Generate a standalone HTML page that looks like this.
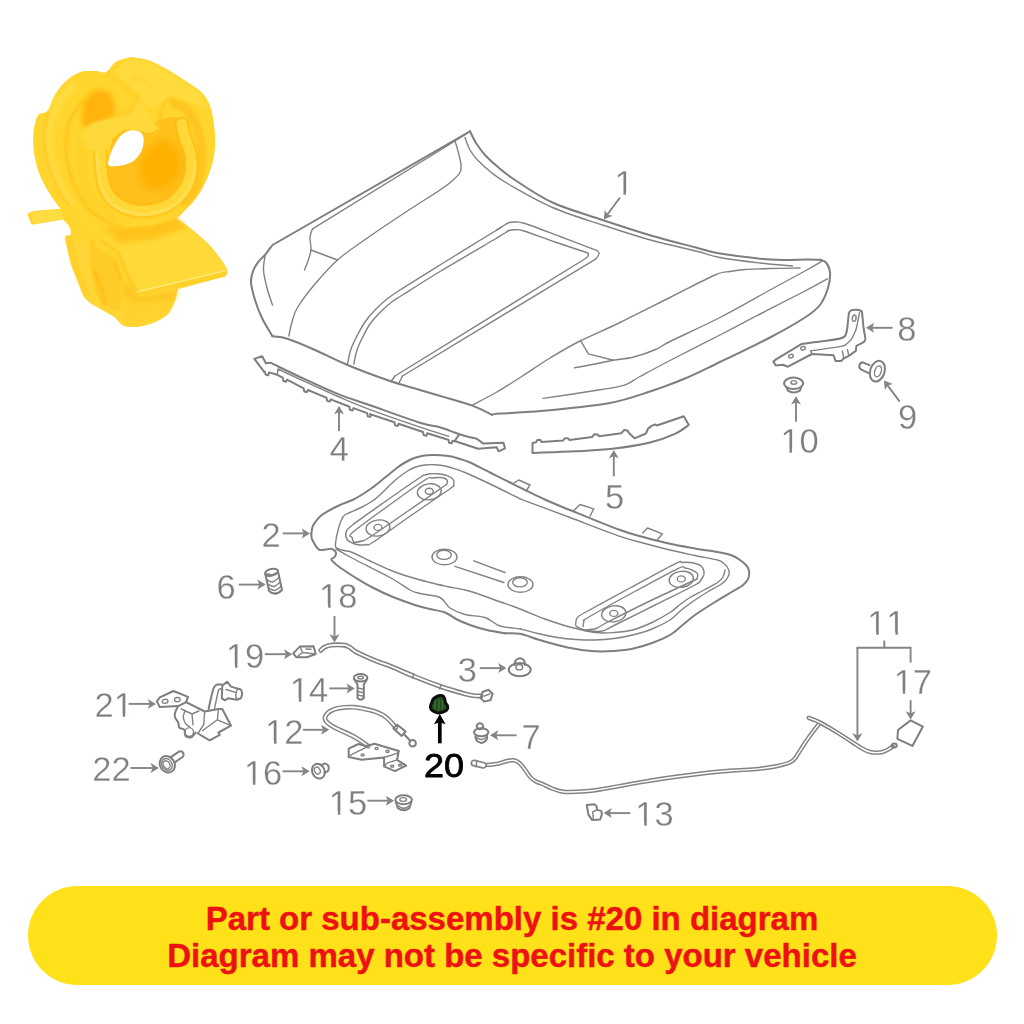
<!DOCTYPE html>
<html><head><meta charset="utf-8"><title>Part diagram</title>
<style>
html,body{margin:0;padding:0;background:#fff;}
body{width:1024px;height:1024px;overflow:hidden;position:relative;font-family:"Liberation Sans",sans-serif;}
svg{position:absolute;left:0;top:0;display:block;}
.g{fill:none;stroke:#7e7e7e;stroke-width:2;stroke-linecap:round;stroke-linejoin:round;}
.t{fill:none;stroke:#828282;stroke-width:1.4;stroke-linecap:round;stroke-linejoin:round;}
.ar{fill:none;stroke:#858585;stroke-width:1.9;stroke-linecap:butt;}
.ah{fill:#858585;stroke:none;}
.n{font-family:"Liberation Sans",sans-serif;font-size:34.5px;fill:#7f7f7f;stroke:#fff;stroke-width:0.3;font-kerning:none;}
.n20{font-family:"Liberation Sans",sans-serif;font-size:33.6px;fill:#000;stroke:#000;stroke-width:0.8;font-kerning:none;}
.banner{position:absolute;left:28px;top:886px;width:969px;height:99px;border-radius:50px;background:#ffe11a;}
.bt{position:absolute;left:0;width:1024px;text-align:center;color:#ee1111;-webkit-text-stroke:0.45px #ee1111;font-weight:bold;font-family:"Liberation Sans",sans-serif;white-space:nowrap;}
</style></head><body>
<svg width="1024" height="1024" viewBox="0 0 1024 1024">
<defs><filter id="b1" x="-20%" y="-20%" width="140%" height="140%"><feGaussianBlur stdDeviation="1.2"/></filter><filter id="b2" x="-30%" y="-30%" width="160%" height="160%"><feGaussianBlur stdDeviation="2.6"/></filter><filter id="b4" x="-40%" y="-40%" width="180%" height="180%"><feGaussianBlur stdDeviation="4.5"/></filter><filter id="b0" x="-10%" y="-10%" width="120%" height="120%"><feGaussianBlur stdDeviation="0.6"/></filter><linearGradient id="gleg" x1="0" y1="0" x2="1" y2="0"><stop offset="0" stop-color="#ffd533"/><stop offset="0.45" stop-color="#ffc721"/><stop offset="1" stop-color="#ffd22c"/></linearGradient><linearGradient id="gflap" x1="0" y1="0" x2="0.3" y2="1"><stop offset="0" stop-color="#ffd52f"/><stop offset="1" stop-color="#ffe04a"/></linearGradient><radialGradient id="gin" cx="0.62" cy="0.45" r="0.6"><stop offset="0" stop-color="#ffb305"/><stop offset="1" stop-color="#ffc623"/></radialGradient></defs>
<g id="clip" filter="url(#b0)">
<path d="M131.7 57.2 C134.6 57.7 143.2 58.4 148.9 60.4 C154.6 62.4 160.4 65.8 166.1 69 C171.8 72.2 177.6 75.9 183.3 79.7 C189 83.5 196 87.1 200.5 91.6 C205 96.1 207.8 100.2 210.1 106.6 C212.4 113 213.7 122.7 214.4 130.2 C215.1 137.7 215.3 144.5 214.4 151.7 C213.5 158.9 211.8 166 209.1 173.2 C206.4 180.4 202.6 188.2 198.3 194.7 C194 201.1 186.9 208 183.3 211.9 C179.7 215.8 177.6 217.2 176.5 218.3 L176.5 218.3 C179.1 220.2 186.6 225.1 192 229.5 C197.4 233.9 204.2 239.5 209 244.5 C213.8 249.5 218.1 255.5 221 259.5 C223.9 263.5 225.6 266.3 226.6 268.5 C227.6 270.7 227.1 271.8 227.2 272.5 L225.6 276.3 L225.6 276.3 C217.6 278.4 186.2 285.1 177.8 289.2 C169.4 293.3 176.7 296.8 175 301 C173.3 305.2 170.9 311.1 167.6 314.6 C164.3 318.1 159.2 320.1 155 322 C150.8 323.9 146.4 325.2 142.2 326 C138 326.8 133.4 327 130 326.8 C126.6 326.6 124.5 326.3 121.9 324.7 C119.3 323.1 117.7 319.6 114.3 317.1 C110.9 314.6 106.3 312.5 101.6 309.5 C96.9 306.5 90.2 304.1 86.3 299.3 C82.4 294.6 80.5 286.9 78 281 C75.5 275.1 72.8 268.8 71.1 263.8 C69.4 258.8 69 255.4 68 251 C67 246.6 64.9 239.9 65.3 237.1 C65.7 234.3 69.8 236.1 70.5 234.4 C71.2 232.7 70.7 229.4 69.4 226.9 C68.2 224.4 64.1 220.8 63 219.6 L31.8 224.8 L31.8 224.8 C31.3 223.7 29.2 220.5 29 218.3 C28.8 216.2 25.4 213.5 30.7 211.9 C36 210.3 55.8 209.2 60.8 208.7 L60.8 208.7 C60.1 207.8 58.6 206.4 56.5 203.3 C54.4 200.2 50.8 195.4 47.9 190.4 C45 185.4 41.6 179.6 39.3 173.2 C37 166.8 34.9 158.9 34 151.7 C33.1 144.5 33.3 136.3 34 130.2 C34.7 124.1 36 118.4 38.3 115.2 C40.6 112 45.2 114.1 47.9 110.9 C50.6 107.7 51.5 100.7 54.4 95.9 C57.3 91.1 60.8 85.9 65.1 81.9 C69.4 78 75.2 74 80.2 72.2 C85.2 70.4 90.9 71 95.2 71 C99.5 71 102.3 74 105.9 72.4 C109.5 70.8 112.4 64 116.7 61.5 C121 59 129.2 57.9 131.7 57.2Z" fill="#ffd52d"/>
<path d="M65.3 237.1 L96.5 241 L135.9 291.7 L177.8 289.2 L177.8 289.2 C177.3 291.2 176.7 296.8 175 301 C173.3 305.2 170.9 311.1 167.6 314.6 C164.3 318.1 159.2 320.1 155 322 C150.8 323.9 146.4 325.2 142.2 326 C138 326.8 133.4 327 130 326.8 C126.6 326.6 124.5 326.3 121.9 324.7 C119.3 323.1 117.7 319.6 114.3 317.1 C110.9 314.6 106.3 312.5 101.6 309.5 C96.9 306.5 90.2 304.1 86.3 299.3 C82.4 294.6 80.5 286.9 78 281 C75.5 275.1 72.8 268.8 71.1 263.8 C69.4 258.8 69 255.4 68 251 C67 246.6 65.8 239.4 65.3 237.1Z" fill="#ffd636"/>
<path d="M66 238 L72 239 L78 262 L90 296 L84 297 L72 266 Z" fill="#ffcf2b" filter="url(#b1)"/>
<path d="M94 245.5 L115.6 260.5 L121 275.5 L121 310 L110.5 310 L94 276 Z" fill="#ffcb27" filter="url(#b1)"/>
<path d="M92 240 L93 270 L99 296 L106 306" fill="none" stroke="#ffc21c" stroke-width="2.6" filter="url(#b1)"/>
<path d="M95.5 271 L106 305" fill="none" stroke="#ffb60e" stroke-width="2" filter="url(#b1)"/>
<path d="M114.5 261 L121 280" fill="none" stroke="#ffbb14" stroke-width="1.8" filter="url(#b1)"/>
<path d="M123 276 L136 292 L178 289 L168 313 L142 325 L123 324 Z" fill="#ffd22e" filter="url(#b0)"/>
<path d="M124 280 L137 296 L177 292 L175 298 L138 303 L124 296 Z" fill="#ffc522" filter="url(#b2)"/>
<path d="M175.2 218.1 Q205 238 226.6 268.5 L227.2 272.5 L225.6 276.3 L177.8 289.2 L142.2 297.3 L135.9 291.7 L124.4 271.4 L116.8 253.6 L96.5 241 L120 228 Z" fill="#ffd938"/>
<path d="M135.9 291.7 L226.6 269.5 L227.2 272.5 L225.6 276.3 L142.2 297.3 Z" fill="#ffd129"/>
<path d="M136.5 292 L226 270.5" fill="none" stroke="#ffe978" stroke-width="1.4" filter="url(#b0)"/>
<path d="M100 240 L118 252 L126 272 L137 292" fill="none" stroke="#ffc31c" stroke-width="2.2" filter="url(#b1)"/>
<path d="M105 228 L176 217 L186 228 L150 240 L118 243 Z" fill="#ffc41f" filter="url(#b2)"/>
<path d="M131.7 57.2 C134.6 57.7 143.2 58.4 148.9 60.4 C154.6 62.4 160.4 65.8 166.1 69 C171.8 72.2 177.6 75.9 183.3 79.7 C189 83.5 196 87.1 200.5 91.6 C205 96.1 207.8 100.2 210.1 106.6 C212.4 113 213.7 122.7 214.4 130.2 C215.1 137.7 215.3 144.5 214.4 151.7 C213.5 158.9 211.8 166 209.1 173.2 C206.4 180.4 202.6 188.2 198.3 194.7 C194 201.1 186.9 208 183.3 211.9 C179.7 215.8 177.6 217.2 176.5 218.3 L150 226 L118 228 L90 222 L60.8 208.7 C60.1 207.8 58.6 206.4 56.5 203.3 C54.4 200.2 50.8 195.4 47.9 190.4 C45 185.4 41.6 179.6 39.3 173.2 C37 166.8 34.9 158.9 34 151.7 C33.1 144.5 33.3 136.3 34 130.2 C34.7 124.1 36 118.4 38.3 115.2 C40.6 112 45.2 114.1 47.9 110.9 C50.6 107.7 51.5 100.7 54.4 95.9 C57.3 91.1 60.8 85.9 65.1 81.9 C69.4 78 75.2 74 80.2 72.2 C85.2 70.4 90.9 71 95.2 71 C99.5 71 102.3 74 105.9 72.4 C109.5 70.8 112.4 64 116.7 61.5 C121 59 129.2 57.9 131.7 57.2Z" fill="#ffd52d"/>
<path d="M75 84 C72.5 86.7 64.2 93.2 60 100 C55.8 106.8 51.7 115.8 50 125 C48.3 134.2 48.7 145.5 50 155 C51.3 164.5 54.3 173.8 58 182 C61.7 190.2 69.7 200.3 72 204" fill="none" stroke="#ffdd44" stroke-width="7" filter="url(#b2)"/>
<path d="M49 111 C48.2 115 44.3 126.8 44 135 C43.7 143.2 44.8 151.3 47 160 C49.2 168.7 53.2 179.2 57 187 C60.8 194.8 67.8 203.7 70 207" fill="none" stroke="#ffc726" stroke-width="2.2" filter="url(#b1)"/>
<path d="M84 100 C81.7 103.3 73 111.7 70 120 C67 128.3 65.7 140 66 150 C66.3 160 68.3 170.3 72 180 C75.7 189.7 82 201 88 208 C94 215 102.3 218.7 108 222 C113.7 225.3 119.7 227 122 228" fill="none" stroke="#ffc51f" stroke-width="3" filter="url(#b1)"/>
<path d="M100 90 C103 90.3 107.5 90.7 110 94 C112.5 97.3 115.3 104.8 115 110 C114.7 115.2 111.8 121.5 108 125 C104.2 128.5 96.3 131.5 92 131 C87.7 130.5 83.3 126.5 82 122 C80.7 117.5 82.3 109 84 104 C85.7 99 89.3 94.3 92 92 C94.7 89.7 97 89.7 100 90Z" fill="#ffb40b" filter="url(#b2)"/>
<path d="M120 66 C122.3 63.3 127 60.5 132 60 C137 59.5 142 59.7 150 63 C158 66.3 171.7 74.8 180 80 C188.3 85.2 195.3 89 200 94 C204.7 99 208.7 108.3 208 110 C207.3 111.7 201.3 106 196 104 C190.7 102 182 98 176 98 C170 98 164.3 102.3 160 104 C155.7 105.7 154.2 110.3 150 108 C145.8 105.7 140.3 95.3 135 90 C129.7 84.7 120.5 80 118 76 C115.5 72 117.7 68.7 120 66Z" fill="#ffdb3e" filter="url(#b1)"/>
<path d="M174 104 C176.3 105.2 184 106.5 188 111 C192 115.5 195.8 123.2 198 131 C200.2 138.8 201.7 149.2 201.5 158 C201.3 166.8 199.6 176.7 197 184 C194.4 191.3 187.8 199 186 202" fill="none" stroke="#ffc522" stroke-width="9" stroke-linecap="round" filter="url(#b1)"/>
<path d="M108 166 C110 158.7 109.3 147.8 112 142 C114.7 136.2 119.3 133.3 124 131 C128.7 128.7 134 129.8 140 128 C146 126.2 153.7 121.7 160 120 C166.3 118.3 173.3 115.5 178 118 C182.7 120.5 185.5 128.7 188 135 C190.5 141.3 192.7 149.2 193 156 C193.3 162.8 192.5 169.5 190 176 C187.5 182.5 183.3 190 178 195 C172.7 200 165.8 203.8 158 206 C150.2 208.2 138.8 208.8 131 208 C123.2 207.2 116.2 204.7 111 201 C105.8 197.3 100.5 191.8 100 186 C99.5 180.2 106 173.3 108 166Z" fill="#ffc01c" filter="url(#b0)"/>
<path d="M140 160 C142.5 152.3 153.7 141.7 160 140 C166.3 138.3 174.7 144.7 178 150 C181.3 155.3 182 165.7 180 172 C178 178.3 171.8 185.7 166 188 C160.2 190.3 149.3 190.7 145 186 C140.7 181.3 137.5 167.7 140 160Z" fill="#ffb006" filter="url(#b4)"/>
<path d="M100.5 152 C100.7 155 100.8 164.2 101.5 170 C102.2 175.8 102.9 182.1 104.4 186.7 C105.9 191.3 108.1 194.5 110.5 197.5 C112.9 200.5 115.5 202.5 118.9 204.5 C122.3 206.5 126.9 208.4 131 209.5 C135.1 210.6 139.3 211 143.5 211 C147.7 211 151.9 210.3 156 209.3 C160.1 208.3 164.4 207.1 168.1 205 C171.8 202.9 175 200.1 178 197 C181 193.9 183.8 190.4 185.9 186.7 C188 183 189.4 179.1 190.3 175 C191.2 170.9 191.4 166.3 191.3 162.1 C191.2 157.9 190.4 153.7 189.5 150 C188.6 146.3 187 143.4 185.9 140.2 C184.8 137 183.7 133.7 183 131 C182.3 128.3 182 125 181.8 123.8" fill="none" stroke="#ffb910" stroke-width="13.5" stroke-linecap="round" filter="url(#b1)"/>
<path d="M100.5 152 C100.7 155 100.8 164.2 101.5 170 C102.2 175.8 102.9 182.1 104.4 186.7 C105.9 191.3 108.1 194.5 110.5 197.5 C112.9 200.5 115.5 202.5 118.9 204.5 C122.3 206.5 126.9 208.4 131 209.5 C135.1 210.6 139.3 211 143.5 211 C147.7 211 151.9 210.3 156 209.3 C160.1 208.3 164.4 207.1 168.1 205 C171.8 202.9 175 200.1 178 197 C181 193.9 183.8 190.4 185.9 186.7 C188 183 189.4 179.1 190.3 175 C191.2 170.9 191.4 166.3 191.3 162.1 C191.2 157.9 190.4 153.7 189.5 150 C188.6 146.3 187 143.4 185.9 140.2 C184.8 137 183.7 133.7 183 131 C182.3 128.3 182 125 181.8 123.8" fill="none" stroke="#ffd738" stroke-width="10.4" stroke-linecap="round" filter="url(#b0)"/>
<path d="M97 154 C97.2 156.8 97.3 165.2 98 171 C98.7 176.8 99.3 183.6 101 188.5 C102.7 193.4 105.2 197.2 108 200.5 C110.8 203.8 113.7 205.9 117.5 208 C121.3 210.1 126.7 211.9 131 213 C135.3 214.1 139.2 214.5 143.5 214.5 C147.8 214.5 152.6 213.8 157 212.8 C161.4 211.8 166 210.4 170 208.3 C174 206.2 177.8 203.3 181 200 C184.2 196.7 187.1 192.6 189.3 188.5 C191.5 184.4 193.1 179.9 194 175.5 C194.9 171.1 194.8 164.2 195 162" fill="none" stroke="#ffe560" stroke-width="2" stroke-linecap="round" filter="url(#b1)"/>
<path d="M84 140 C83.5 143.3 81 152.7 81 160 C81 167.3 81.7 176.5 84 184 C86.3 191.5 90.3 199.2 95 205 C99.7 210.8 109.2 216.7 112 219" fill="none" stroke="#ffd12c" stroke-width="9" stroke-linecap="round" filter="url(#b1)"/>
<path d="M82 134 C82.8 130.3 86 126.5 90 124 C94 121.5 99.7 120.8 106 119 C112.3 117.2 123.3 115.7 128 113 C132.7 110.3 132.2 105.2 134 103 C135.8 100.8 136.3 97.8 139 100 C141.7 102.2 146.8 111.1 150 116 C153.2 120.9 158.4 126.6 158.4 129.6 C158.4 132.6 153.6 133.7 150 134 C146.4 134.3 141.3 132 137 131.5 C132.7 131 128 129.6 124 131 C120 132.4 116 136.8 113 140 C110 143.2 109 148.2 106 150 C103 151.8 98.5 151.7 95 151 C91.5 150.3 87.2 148.8 85 146 C82.8 143.2 81.2 137.7 82 134Z" fill="#ffd93a" filter="url(#b1)"/>
<path d="M112 141 L124 130.5 L137 131.5 L150 134.3 L158.4 130" fill="none" stroke="#ffbf18" stroke-width="1.8" filter="url(#b0)"/>
<path d="M104 118 L130 112 L138 98" fill="none" stroke="#ffc41f" stroke-width="1.6" filter="url(#b1)"/>
<path d="M158 128 C158.5 125.3 159.7 116.7 161 112 C162.3 107.3 163.5 102.3 166 100 C168.5 97.7 174.3 98.3 176 98" fill="none" stroke="#ffc624" stroke-width="2.2" filter="url(#b1)"/>
<path d="M107 73 C109.2 74.8 115.8 80.5 120 84 C124.2 87.5 129 91.7 132 94 C135 96.3 137 97.3 138 98" fill="none" stroke="#ffcb2a" stroke-width="1.6" filter="url(#b1)"/>
<path d="M132 78 C134.3 78.7 142.7 80 146 82 C149.3 84 151 88.7 152 90" fill="none" stroke="#ffcf2e" stroke-width="1.4" filter="url(#b1)"/>
<path d="M108.6 165.2 C107.3 163.2 109.5 157.4 110.5 154 C111.5 150.6 113.3 147.3 114.8 144.5 C116.3 141.7 117.7 139.1 119.5 137 C121.3 134.9 123.6 133.1 125.7 132 C127.8 130.9 129.9 130.4 132 130.2 C134.1 130 136.3 130.4 138 131 C139.7 131.6 141.1 132.7 142 134 C142.9 135.3 143.4 137 143.6 139 C143.8 141 143.5 143.7 143 146 C142.5 148.3 142 150.6 140.5 153 C139 155.4 136.2 158.7 134 160.5 C131.8 162.3 129.7 163.1 127 164 C124.3 164.9 121.1 165.8 118 166 C114.9 166.2 109.8 167.2 108.6 165.2Z" fill="#fff"/>
<path d="M31 213 L60 209 L64 219 L33 224 Z" fill="#ffdd42" filter="url(#b0)"/>
</g>
<filter id="soft" x="0" y="0" width="1024" height="1024" filterUnits="userSpaceOnUse"><feGaussianBlur stdDeviation="0.4"/></filter><g id="diagram" filter="url(#soft)">
<g id="hood">
<path class="g" d="M470 131.3 C471 133.2 473.5 139.1 476 143 C478.5 146.9 481.3 151 485 155 C488.7 159 493 162.8 498 167 C503 171.2 505.9 174.1 515 180 C524.1 185.9 537.9 195.8 552.5 202.5 C567.1 209.2 585.8 214.4 602.5 220 C619.2 225.6 636.9 231.4 652.5 236 C668.1 240.6 684.8 244.6 696 247.5 C707.2 250.4 707.7 251.5 720 253.5 C732.3 255.5 755.3 258.5 770 259.5 C784.7 260.5 799.7 259.4 808 259.5 C816.3 259.6 818 259.8 820 259.8"/>
<path class="g" d="M820 259.8 C821 260.2 824.3 260.4 826 262.5 C827.7 264.6 829.7 268.2 830 272.5 C830.3 276.8 829.7 282.6 828 288 C826.3 293.4 823.8 300.1 820 305 C816.2 309.9 813.3 312.1 805 317.5 C796.7 322.9 784.2 330.1 770 337.5 C755.8 344.9 734.2 355.2 720 362 C705.8 368.8 696.7 373.6 685 378.5 C673.3 383.4 662.5 387.4 650 391.5 C637.5 395.6 626.7 399.9 610 403 C593.3 406.1 568.3 408.4 550 410.2 C531.7 412 509.7 412.8 500 413.6 C490.3 414.4 493.3 414.6 492 414.8"/>
<path class="g" d="M492 414.8 C490.7 414.1 487.4 412.4 484 410.8 C480.6 409.2 477.9 407.6 471.6 405.4 C465.3 403.2 454.5 400.1 446 397.6 C437.5 395.1 430.1 393 420.8 390.2 C411.5 387.4 402.2 385.2 390 381 C377.8 376.8 360 370.2 347.5 365 C335 359.8 325 354.4 315 350 C305 345.6 294.6 341.1 287.5 338.8 C280.4 336.5 275 336.7 272.5 336.3"/>
<path class="g" d="M272.5 336.3 C270.8 333.2 264.9 324.1 262 318 C259.1 311.9 256.8 306 255 300 C253.2 294 251.2 287 251 282 C250.8 277 252.2 273.5 253.5 270 C254.8 266.5 257.1 263.5 259 261 C260.9 258.5 262.8 257.7 265 255 C267.2 252.3 271.2 246.7 272.5 245 L470 131.3"/>
<path class="t" d="M465 137.5 C465.8 139.6 467.9 146.2 470 150 C472.1 153.8 473.8 156.2 477.5 160 C481.2 163.8 486.6 168.8 492 173 C497.4 177.2 499.9 179.2 510 185 C520.1 190.8 537.1 200.8 552.5 207.5 C567.9 214.2 585.8 219.5 602.5 225 C619.2 230.5 636.9 236.2 652.5 240.5 C668.1 244.8 684.8 248.2 696 251 C707.2 253.8 709.3 255.5 720 257.5 C730.7 259.5 747.9 261.6 760 263 C772.1 264.4 787.1 265.5 792.5 266"/>
<path class="t" d="M455 141 L312.5 228.8"/>
<path class="t" d="M312.5 228.8 C312.1 230.2 310.2 234 310 237.5 C309.8 241 311.3 246.1 311 250 C310.7 253.9 309.1 257.7 308 261 C306.9 264.3 305.1 268.5 304.5 270"/>
<path class="t" d="M311 250 L337.5 260"/>
<path class="t" d="M470 131.3 L455 141"/>
<path class="t" d="M455 141 C455.6 143 457.5 149 458.5 153 C459.5 157 460.8 161.8 461 165 C461.2 168.2 461.5 169.8 460 172.5 C458.5 175.2 455.3 178.1 452 181 C448.7 183.9 446.2 185.8 440 190 C433.8 194.2 423.3 200.6 415 206 C406.7 211.4 398.7 216.7 390 222.5 C381.3 228.3 371.8 234.8 363 241 C354.2 247.2 345.5 252.8 337.5 260 C329.5 267.2 321.7 276.1 315 284 C308.3 291.9 301.3 301.2 297.5 307.5 C293.7 313.8 293.4 317.2 292 322 C290.6 326.8 289.3 333.7 288.8 336"/>
<path class="t" d="M265 256 C264.8 258.3 263.2 264.7 263.5 270 C263.8 275.3 265.5 282.2 267 288 C268.5 293.8 271.6 302.2 272.5 305"/>
<path class="t" d="M347.5 364 C348.1 361.5 349.3 353.8 351 349 C352.7 344.2 355.2 339.5 357.5 335 C359.8 330.5 362.1 326.2 365 322 C367.9 317.8 371.3 313.8 375 310 C378.7 306.2 382.8 302.3 387 299 C391.2 295.7 391.2 295.7 400 290 C408.8 284.3 424 274.9 440 265 C456 255.1 486.7 236.2 496 230.5"/>
<path class="t" d="M353.8 364 C354.3 361.7 355.6 354.4 357 350 C358.4 345.6 360.3 341.8 362.5 337.5 C364.7 333.2 367.1 328.2 370 324 C372.9 319.8 376.5 316.1 380 312.5 C383.5 308.9 387.2 305.4 391 302.5 C394.8 299.6 394.3 300.2 402.5 295 C410.7 289.8 424.4 280.9 440 271.5 C455.6 262.1 486.7 244 496 238.5"/>
<path class="t" d="M496 230.5 L502.5 226.5"/>
<path class="t" d="M496 230.5 C497.2 229.8 501 227.2 503 226 C505 224.8 506.2 223.7 508 223 C509.8 222.3 511.2 221.9 514 222 C516.8 222.1 517.3 221.1 525 223.5 C532.7 225.9 548.8 232.3 560 236.5 C571.2 240.7 586.2 246.4 592.5 248.8 C598.8 251.2 596.4 250.1 597.5 251 C598.6 251.9 599.2 252.7 599 254 C598.8 255.3 596.5 258 596 258.8 L402.5 376"/>
<path class="t" d="M496 238.5 C497.5 237.6 502.8 234.3 505 233 C507.2 231.7 507.3 231.1 509 230.5 C510.7 229.9 512.5 229.6 515 229.7 C517.5 229.8 517.3 228.9 524 231 C530.7 233.1 544.8 238.5 555 242 C565.2 245.5 579.5 250.1 585 252 C590.5 253.9 587.5 252.9 588 253.6 C588.5 254.3 588.4 255.2 588 256 C587.6 256.8 585.9 258.1 585.5 258.5 L395 376"/>
<path class="t" d="M391 381.5 L395 376 M398.5 384 L402.5 376"/>
<path class="t" d="M580.6 340.6 L588.4 353.9 L613.4 360.2 C616.8 359.7 626.8 358.8 633.8 357 C640.8 355.2 649.6 352.1 655.6 349.5 C661.6 346.9 659.3 346.8 670 341.5 C680.7 336.2 703.3 326.1 720 317.5 C736.7 308.9 755.8 297.8 770 290 C784.2 282.2 796.2 275.8 805 271 C813.8 266.2 819.6 262.7 822.5 261"/>
<path class="t" d="M827.5 278.8 C823.8 280.8 814.6 286 805 291 C795.4 296 784.2 301.5 770 308.8 C755.8 316.1 736.7 326.4 720 335 C703.3 343.6 683.3 353.6 670 360.5 C656.7 367.4 647.6 372.4 640 376.5 C632.4 380.6 631.1 383 624.4 385.2 C617.7 387.4 613.5 387.6 600 389.8 C586.5 392 552.6 397 543.1 398.4"/>
<path class="t" d="M800 268 C795 268.1 779.2 268.2 770 268.5 C760.8 268.8 751.7 269 745 269.5 C738.3 270 735 270.6 730 271.5 C725 272.4 725 270.7 715 275 C705 279.3 685.8 289.6 670 297.5 C654.2 305.4 635 315.2 620 322.5 C605 329.8 591.7 335.1 580 341 C568.3 346.9 559.6 352.2 550 358 C540.4 363.8 531.5 370.2 522.5 376 C513.5 381.8 504.5 387.6 496 392.5 C487.5 397.4 475.7 403.2 471.6 405.4"/>
<path class="t" d="M574.5 367.8 C577.9 367.2 588.5 365.3 595 364 C601.5 362.7 610.3 360.8 613.4 360.2"/>
</g>
<g id="p4">
<path class="g" d="M264 371.6 L254.4 358.9 L262.1 356.3 L265.9 363.3 L270.3 362.7 C275.4 365.1 289.4 372 300.8 377.3 C312.2 382.6 327.4 389.8 338.9 394.4 C350.4 399 356.4 400.4 370 405.2 C383.6 410 409.1 419.3 420.8 423 C432.5 426.7 433.6 425.4 440 427.3 C446.4 429.2 453.3 432.2 459.5 434.2 C465.7 436.1 474.2 438.2 477.1 439 L483 443.4 L503.5 442.7 L505 448.3 L498.6 451.3 L496.6 447.3 L478.1 448.8 L454.6 441 L459.5 434.2"/>
<path class="g" d="M264 371.6 L264.9 371.7 L265.6 374.6 L268.1 375.3 L269.1 372.4 L269 372.4 L277.3 374.8 L282.7 377.6 L283.4 381 L285.9 381.7 L286.9 379.7 L303.3 388.1 L303.6 388.2 L304.3 391.5 L306.8 392.2 L307.8 390 L326.2 397.6 L326.5 397.7 L327.2 400.9 L329.7 401.6 L330.7 399.4 L349 406.5 L349.3 406.6 L350 409.8 L352.5 410.5 L353.5 408.1 L367.1 413.1 L367.8 416.2 L370.3 416.9 L371.3 414.5 L370 414.1 L392.9 421.7 L394.4 422.2 L395.1 425.4 L397.6 426.1 L398.6 423.7 L420.8 431.3 L423 432 L423.7 435.1 L426.2 435.8 L427.2 433.3 L447.4 439.5 L448.4 439.7 L449.1 442.7 L451.6 443.4 L452.6 440.7 L454.6 441.2"/>
<path class="t" d="M277.9 369 C281.6 370.7 290 374.7 300 379.3 C310 383.9 326.3 391.4 338 396.5 C349.7 401.6 356.3 404.6 370 409.7 C383.7 414.8 406.9 422.8 420 427.2 C433.1 431.6 443.9 434.8 448.7 436.3 M277.9 369 L277.3 374.8"/>
</g>
<g id="p5">
<path class="g" d="M532.5 453 L532.5 443 L536 442.3 L537.5 439.8 L540.5 440 L541.5 442 L563 440.6 L565 438.2 L568 438.3 L569.5 440 L592 437 L594.5 434.2 L597.5 434.4 L599 436.2 L621.5 433.2 L624 430 L627.5 430.5 L629 433 L634.5 438.3 L646 433.5 L648 428.6 L652 425.6 L655.5 424.5 L657 425.5 L683.8 416.3 L688.8 425 C686.5 426.5 681.5 430.9 675 433.8 C668.5 436.7 660.4 440 650 442.5 C639.6 445 625 447.3 612.5 448.8 C600 450.3 588.3 450.6 575 451.3 C561.7 452 539.6 452.7 532.5 453"/>
</g>
<g id="p2">
<path class="g" d="M311.3 533.8 C311.5 532.7 311.9 528.9 312.5 527 C313.1 525.1 313.8 524.2 315 522.5 C316.2 520.8 317.9 518.4 320 516.5 C322.1 514.6 324.2 513.2 327.5 511.3 C330.8 509.4 335.8 506.9 340 505 C344.2 503.1 348.7 501.8 352.5 500 C356.3 498.2 359.7 496.1 363 494 C366.3 491.9 368.8 490.2 372.5 487.5 C376.2 484.8 380.8 480.8 385 477.5 C389.2 474.2 394 470.1 397.5 467.5 C401 464.9 403.1 463.6 406 462 C408.9 460.4 412.2 458.8 415 457.8 C417.8 456.8 420.1 456.3 423 455.8 C425.9 455.3 429.5 455.1 432.5 455 C435.5 454.9 438.1 455.1 441 455.3 C443.9 455.5 446.8 455.7 450 456.3 C453.2 456.9 456.7 458 460 459 C463.3 460 465 460.2 470 462.5 C475 464.8 483.3 469.2 490 472.5 C496.7 475.8 500.7 477.9 510 482.5 C519.3 487.1 536 495.4 546 500 C556 504.6 557.7 505 570 510 C582.3 515 607.5 525.4 620 530 C632.5 534.6 636.7 535.2 645 537.5 C653.3 539.8 661.7 542 670 543.8 C678.3 545.6 686.7 547 695 548.5 C703.3 550 713.8 551.3 720 552.5 C726.2 553.7 728.7 554.2 732 555.5 C735.3 556.8 737.7 558.4 740 560 C742.3 561.6 744.5 563.3 746 565 C747.5 566.7 748.3 568.2 748.8 570 C749.3 571.8 749.2 573.8 749 575.5 C748.8 577.2 748.6 578.3 747.5 580 C746.4 581.7 744.6 583.8 742.5 585.5 C740.4 587.2 739.6 587.2 735 590 C730.4 592.8 721.7 597.8 715 602 C708.3 606.2 700.5 611.1 695 615 C689.5 618.9 686.2 622.2 682 625.5 C677.8 628.8 675 632.1 670 635 C665 637.9 658.2 640.7 652 643 C645.8 645.3 638.8 647.5 632.5 648.8 C626.2 650.1 620.2 650.6 614 651 C607.8 651.4 601.3 651.6 595 651.3 C588.7 651 582.2 650 576 649 C569.8 648 563.8 646.6 557.5 645 C551.2 643.4 544.2 641.4 538 639.5 C531.8 637.6 525.5 634.8 520 633.8 C514.5 632.8 507.5 633.4 505 633.3"/>
<path class="g" d="M311.3 533.8 C311.4 534.6 311.4 537 311.8 538.5 C312.2 540 313 541.1 313.8 542.5 C314.6 543.9 315.5 545.8 316.5 547 C317.5 548.2 318.4 549.6 320 550 C321.6 550.4 324.1 549.7 326 549.5 C327.9 549.3 329.8 548.5 331.3 548.8 C332.8 549 334.2 550.2 335 551 C335.8 551.8 336.1 552.8 336 553.8 C335.9 554.8 335.3 556 334.5 557 C333.7 558 331.2 558.4 331.3 559.5 C331.4 560.6 333.6 562.2 335 563.5 C336.4 564.8 336.5 565.1 340 567.5 C343.5 569.9 350.6 574.7 356 578 C361.4 581.3 366.3 584.3 372.5 587.5 C378.7 590.7 385.9 594.1 393 597 C400.1 599.9 408.8 603 415 605 C421.2 607 425 607.8 430 609 C435 610.2 440.5 610.8 445 612.5 C449.5 614.2 452.8 617.4 457 619.5 C461.2 621.6 465 623.2 470 625 C475 626.8 481.2 628.6 487 630 C492.8 631.4 502 632.8 505 633.3"/>
<path class="t" d="M336 549 C338.7 550.5 343 553.2 352 558 C361 562.8 380.3 572.2 390 577.5 C399.7 582.8 405 587.3 410 590 C415 592.7 415 592.2 420 593.5 C425 594.8 435 595.1 440 597.5 C445 599.9 445.8 605.2 450 608 C454.2 610.8 459.2 612.9 465 614.5 C470.8 616.1 479.2 615.6 485 617.5 C490.8 619.4 494.2 624.1 500 626 C505.8 627.9 516.7 628.3 520 628.8"/>
<path class="t" d="M520 498.8 C528.3 501.9 553.3 511.2 570 517.5 C586.7 523.8 607.5 532 620 536.3 C632.5 540.6 636.7 541.2 645 543.5 C653.3 545.8 661.7 548 670 550 C678.3 552 687.1 553.8 695 555.5 C702.9 557.2 712.7 558.7 717.5 560 C722.3 561.3 722.3 562.2 724 563.5 C725.7 564.8 726.7 566.2 727.5 567.5 C728.3 568.8 728.8 569.8 729 571 C729.2 572.2 729.4 573.4 728.8 575 C728.2 576.6 727 578.8 725.5 580.5 C724 582.2 723 583.1 720 585 C717 586.9 711.7 589.5 707.5 592 C703.3 594.5 699.2 597.1 695 600 C690.8 602.9 686.2 606.2 682 609.5 C677.8 612.8 675 616.8 670 620 C665 623.2 658.2 626.5 652 629 C645.8 631.5 638.8 633.4 632.5 635 C626.2 636.6 620.2 637.7 614 638.5 C607.8 639.3 601.3 639.8 595 640 C588.7 640.2 582.2 639.9 576 639.5 C569.8 639.1 563.8 638.5 557.5 637.5 C551.2 636.5 544.2 635 538 633.5 C531.8 632 523 629.6 520 628.8"/>
<path class="t" d="M342.5 517.5 C343 517 344.2 515.3 345.5 514.5 C346.8 513.7 347.4 513.7 350 512.5 C352.6 511.3 357.2 509.4 361 507.5 C364.8 505.6 369.1 503.3 372.5 501 C375.9 498.7 378.6 496.2 381.5 493.5 C384.4 490.8 387.2 487.7 390 485 C392.8 482.3 395.6 479.8 398.5 477.5 C401.4 475.2 404.6 472.8 407.5 471 C410.4 469.2 413.1 468 416 467 C418.9 466 421.8 465.4 425 465 C428.2 464.6 431.7 464.6 435 464.8 C438.3 465 441.7 465.3 445 466 C448.3 466.7 451.7 467.7 455 468.8 C458.3 469.9 459.7 470.2 465 472.5 C470.3 474.8 479.5 478.9 487 482.5 C494.5 486.1 504.5 491.1 510 493.8 C515.5 496.5 518.3 498 520 498.8"/>
<path class="t" d="M342.5 517.5 C342 518.8 340.3 522.5 339.5 525 C338.7 527.5 338.1 530 337.5 532.5 C336.9 535 336.2 537.5 336 540 C335.8 542.5 334.7 545.8 336 547.5 C337.3 549.2 341.2 549.7 344 550.5 C346.8 551.3 348.2 550.8 352.5 552.5 C356.8 554.2 363.8 558.1 370 561 C376.2 563.9 383.3 567.3 390 570 C396.7 572.7 403.3 574.9 410 577 C416.7 579.1 423.8 580.9 430 582.5 C436.2 584.1 441.2 585.2 447 586.5 C452.8 587.8 459.5 588.7 465 590 C470.5 591.3 475 592.8 480 594.5 C485 596.2 488.3 597.6 495 600 C501.7 602.4 511.7 605.8 520 609 C528.3 612.2 536.7 616 545 619 C553.3 622 561.7 624.8 570 627 C578.3 629.2 587.7 631.6 595 632.5 C602.3 633.4 607.8 632.9 614 632.5 C620.2 632.1 626.2 631.7 632.5 630 C638.8 628.3 645.8 625.4 652 622.5 C658.2 619.6 665.3 615.5 670 612.5 C674.7 609.5 676.7 607 680 604.5 C683.3 602 686 599.9 690 597.5 C694 595.1 699.4 592.5 704 590 C708.6 587.5 714.3 584.7 717.5 582.5 C720.7 580.3 721.8 579.1 723 577 C724.2 574.9 724.7 571.2 725 570"/>
<path class="t" d="M347.5 540 C346.2 538.2 345.2 535 346 532.5 C346.8 530 345.8 530.2 352.5 525 C359.2 519.8 374.8 508.9 386 501 C397.2 493.1 413.5 481.8 420 477.5 C426.5 473.2 423.3 475.6 425 475 C426.7 474.4 427.9 474 430 473.8 C432.1 473.6 435 473.6 437.5 473.8 C440 474 442.8 474.4 445 475 C447.2 475.6 449.5 476.5 451 477.5 C452.5 478.5 453.4 479.8 453.8 481 C454.2 482.2 454.1 483.7 453.5 485 C452.9 486.3 457.1 483.7 450 488.8 C442.9 493.9 423.9 506.6 411 515.5 C398.1 524.5 379.9 537.7 372.5 542.5 C365.1 547.3 368.6 544.1 366.5 544.5 C364.4 544.9 362.2 545.2 360 545 C357.8 544.8 355.6 544.3 353.5 543.5 C351.4 542.7 348.8 541.8 347.5 540Z"/>
<path class="t" d="M353.8 542.5 C353.5 541.7 352.2 539.2 352 537.5 C351.8 535.8 346.5 537.8 352.5 532.5 C358.5 527.2 375.9 514.8 388 506 C400.1 497.2 417.7 484.7 425 480 C432.3 475.3 429.5 478.4 432 478 C434.5 477.6 437.8 477.4 440 477.5 C442.2 477.6 443.8 477.9 445 478.5 C446.2 479.1 447.2 480 447.5 481 C447.8 482 446.7 483.9 446.5 484.5"/>
<path class="t" d="M353.8 542.5 C355.2 542.2 359.3 541.9 362 541 C364.7 540.1 362.3 542 370 537 C377.7 532 395.2 519.8 408 511 C420.8 502.2 440.1 488.9 446.5 484.5"/>
<ellipse class="t" cx="429.3" cy="491.8" rx="12" ry="8" transform="rotate(-8 429.3 491.8)"/>
<ellipse class="t" cx="429.3" cy="491.2" rx="4" ry="3"/>
<ellipse class="t" cx="378" cy="528" rx="12" ry="8" transform="rotate(-8 378 528)"/>
<ellipse class="t" cx="378" cy="527.4" rx="4" ry="3"/>
<path class="t" d="M576.3 626.3 C574.8 624.9 575.8 623 576 621.5 C576.2 620 576 619 577.5 617.5 C579 616 576.2 617.4 585 612.5 C593.8 607.6 615 596.1 630 588 C645 579.9 666.3 568 675 563.8 C683.7 559.5 679.5 562.7 682 562.5 C684.5 562.3 687.5 562.2 690 562.5 C692.5 562.8 695.1 563.4 697 564 C698.9 564.6 700.2 565.2 701.3 566.3 C702.4 567.4 703.4 569 703.8 570.5 C704.2 572 704.3 573.3 703.8 575 C703.2 576.7 702 578.8 700.5 580.5 C699 582.2 702.6 580.9 695 585 C687.4 589.1 668.3 598.3 655 605 C641.7 611.7 622.8 621.1 615 625 C607.2 628.9 610.6 627.5 608.5 628.5 C606.4 629.5 605 630.5 602.5 631 C600 631.5 596.4 631.5 593.5 631.3 C590.6 631.1 587.9 630.8 585 630 C582.1 629.2 577.8 627.7 576.3 626.3Z"/>
<path class="t" d="M583 626.5 C583.2 625.7 583.2 623 584 621.5 C584.8 620 580 622.2 588 617.5 C596 612.8 617.1 601.1 632 593 C646.9 584.9 668.7 573 677.5 568.8 C686.3 564.6 682.6 567.8 685 568 C687.4 568.2 689.9 569.1 692 570 C694.1 570.9 696.7 572 697.5 573.5 C698.3 575 697.1 578.1 697 579"/>
<path class="t" d="M585 630 C586.8 629.8 592.5 629.7 596 628.5 C599.5 627.3 596.7 627.8 606 623 C615.3 618.2 636.8 607.3 652 600 C667.2 592.7 689.5 582.5 697 579"/>
<ellipse class="t" cx="681.3" cy="579.3" rx="12.2" ry="8" transform="rotate(-8 681.3 579.3)"/>
<ellipse class="t" cx="681.3" cy="578.9" rx="4" ry="3"/>
<ellipse class="t" cx="613.8" cy="613.8" rx="12.2" ry="8" transform="rotate(-8 613.8 613.8)"/>
<ellipse class="t" cx="613.8" cy="613.4" rx="4" ry="3"/>
<ellipse class="t" cx="444.5" cy="557" rx="12.5" ry="7.8"/>
<ellipse class="t" cx="444" cy="554.8" rx="7.3" ry="4.6"/>
<ellipse class="t" cx="520.5" cy="584.5" rx="12.5" ry="7.8"/>
<ellipse class="t" cx="520" cy="582.3" rx="7.3" ry="4.6"/>
<path class="t" d="M473.8 560.8 L505 572.5 M455 566.3 L503.8 582.5"/>
<path class="t" d="M512.5 483.8 L518.8 480 L530 485 L526 491"/>
<path class="t" d="M573.8 510.5 L580 504.5 L593.8 508.8 L590 516"/>
<path class="t" d="M642.5 533 L647.5 528 L662.5 533.8 L657.5 539.5"/>
</g>
<g id="p8">
<path class="g" d="M773.3 361.6 L776.4 359.1 L801.8 343.9 L815.8 342 C820 341.4 836.1 339.7 841.2 338.2 C846.3 336.7 845.1 335.6 846.2 333.1 C847.3 330.6 847.4 326.2 847.8 323 C848.2 319.8 848.4 316 848.8 314 C849.2 312 849.4 311.9 850 311.2 C850.6 310.5 851.1 310.2 852.6 310 C854.1 309.8 857.5 309.8 858.9 310 C860.3 310.2 860.5 310.5 861 311 C861.5 311.5 861.7 310.2 862.1 312.8 C862.5 315.4 862.9 322.5 863.4 326.7 C863.9 330.9 865.1 335.8 865.3 338.2 C865.5 340.6 865.2 340.1 864.8 340.8 C864.4 341.5 864.2 341.8 862.8 342.6 C861.4 343.4 857.5 345.3 856.4 345.8 L855.8 350.9 L848.8 355.9 L843.7 358.5 L841.2 361 L835.5 361 L833.6 355.3 L812 354 L787.9 366.7 L782.8 364.8 L775.8 365.5 Z"/>
<path class="t" d="M810.7 350.9 C815.8 350.1 835.2 347.6 841.2 346.4 C847.2 345.2 845.3 344.7 847 343.5 C848.7 342.3 850 341.1 851.3 339.4 C852.5 337.6 853.6 334.9 854.5 333 C855.4 331.1 855.5 331.5 856.4 328 C857.2 324.5 859.1 314.8 859.6 312.1"/>
<path class="t" d="M810.7 350.9 L812 354 M842.4 350.9 L843.7 358.5 M847.5 349.6 L848.8 355.9"/>
<ellipse class="t" cx="803.1" cy="348.3" rx="2.4" ry="1.7" transform="rotate(-20 803.1 348.3)"/>
<ellipse class="t" cx="791" cy="356.2" rx="2.4" ry="1.7" transform="rotate(-20 791 356.2)"/>
<ellipse class="t" cx="854.2" cy="318.2" rx="1.9" ry="3.2" transform="rotate(8 854.2 318.2)"/>
</g>
<g id="p9">
<path class="g" d="M869.5 365.2 L862.8 362.3 Q859.5 362.8 859.3 366.3 Q859.3 368.8 861.5 369.7 L868.6 373.1"/>
<ellipse class="g" cx="877.4" cy="371.2" rx="7.2" ry="10.6" transform="rotate(18 877.4 371.2)"/>
<ellipse class="t" cx="878" cy="371.3" rx="3.2" ry="5.6" transform="rotate(18 878 371.3)"/>
</g>
<g id="p10">
<ellipse class="g" cx="793.6" cy="383.3" rx="9.5" ry="5.7"/>
<ellipse class="t" cx="793.8" cy="382.4" rx="2.9" ry="1.8"/>
<path class="g" d="M786.2 387 L787.9 390.6 Q793.5 394.3 800 390.6 L801 387"/>
</g>
<g id="p18">
<path d="M320.8 650.3 C321.3 649.8 322.6 648.3 324 647.5 C325.4 646.7 327.2 645.9 329.4 645.4 C331.6 644.9 334.4 644.8 337 644.8 C339.6 644.8 342.8 644.7 345 645.2 C347.2 645.7 348.6 646.6 350.5 647.8 C352.4 649 352.4 650 356.7 652.2 C361 654.4 370.8 658.7 376.3 661 C381.9 663.3 383.6 663.4 390 666 C396.4 668.6 406.4 673.2 415 676.7 C423.6 680.2 434.9 684.5 441.6 686.9 C448.3 689.3 451.1 689.8 455 691 C458.9 692.2 462 693.1 465 693.9 C468 694.7 470.3 695.2 473 695.6 C475.7 696 479.7 695.9 481 696" fill="none" stroke="#838383" stroke-width="5" stroke-linecap="round" stroke-linejoin="round"/>
<path d="M320.8 650.3 C321.3 649.8 322.6 648.3 324 647.5 C325.4 646.7 327.2 645.9 329.4 645.4 C331.6 644.9 334.4 644.8 337 644.8 C339.6 644.8 342.8 644.7 345 645.2 C347.2 645.7 348.6 646.6 350.5 647.8 C352.4 649 352.4 650 356.7 652.2 C361 654.4 370.8 658.7 376.3 661 C381.9 663.3 383.6 663.4 390 666 C396.4 668.6 406.4 673.2 415 676.7 C423.6 680.2 434.9 684.5 441.6 686.9 C448.3 689.3 451.1 689.8 455 691 C458.9 692.2 462 693.1 465 693.9 C468 694.7 470.3 695.2 473 695.6 C475.7 696 479.7 695.9 481 696" fill="none" stroke="#fff" stroke-width="1.8" stroke-linecap="round" stroke-linejoin="round"/>
<path class="g" d="M482.5 692 L488.5 689.8 L492.6 693.8 L490.6 700 L484.2 701.6 L480.5 698 Z"/>
<path class="t" d="M484.4 696 L490 693.8"/>
<path class="t" d="M414 673.8 L412.5 678 M441 684.5 L439.8 689"/>
</g>
<g id="p19">
<path class="g" d="M293.2 653.4 L300 646.4 L313.5 646.2 L315.7 654 L307 657.3 L296.4 657.3 Z"/>
<path class="t" d="M300 646.4 L302.5 652.5 L296.4 657.3 M302.5 652.5 L315.7 654 M306 649 L311 649.3"/>
</g>
<g id="p14">
<ellipse class="g" cx="360.6" cy="677.8" rx="6.8" ry="3.7"/>
<ellipse class="t" cx="360.6" cy="677.6" rx="2.8" ry="1.4"/>
<path class="g" d="M354 679 L357.5 684.5 L357.5 698 Q360.6 701.5 363.8 698 L363.8 684.5 L367.2 679"/>
<path class="t" d="M357.5 688 L363.8 689.2 M357.5 691.5 L363.8 692.7 M357.5 695 L363.8 696.2"/>
</g>
<g id="p12">
<path d="M368 745.9 C366.8 745.1 363.5 742.6 361 741 C358.5 739.4 355.7 737.7 353 736.2 C350.3 734.8 347.7 733.5 345 732.3 C342.3 731 339.3 729.9 336.9 728.7 C334.5 727.5 332.3 726.2 330.5 725 C328.7 723.8 327 722.5 326.1 721.2 C325.2 720 324.8 718.8 325 717.5 C325.2 716.2 326.1 714.8 327.2 713.6 C328.3 712.4 329.7 711.4 331.5 710.5 C333.3 709.6 335.6 708.8 337.9 708.3 C340.1 707.8 342.5 707.5 345 707.3 C347.5 707.1 350.3 707.1 353 707.2 C355.7 707.4 358.3 707.8 361 708.2 C363.7 708.7 366.4 709.2 369.1 709.9 C371.8 710.6 374.5 711.3 377 712.3 C379.5 713.3 381.9 714.3 384.1 715.8 C386.4 717.3 388.5 719.5 390.5 721.5 C392.5 723.5 395 726.6 395.9 727.6" fill="none" stroke="#838383" stroke-width="4.8" stroke-linecap="round" stroke-linejoin="round"/>
<path d="M368 745.9 C366.8 745.1 363.5 742.6 361 741 C358.5 739.4 355.7 737.7 353 736.2 C350.3 734.8 347.7 733.5 345 732.3 C342.3 731 339.3 729.9 336.9 728.7 C334.5 727.5 332.3 726.2 330.5 725 C328.7 723.8 327 722.5 326.1 721.2 C325.2 720 324.8 718.8 325 717.5 C325.2 716.2 326.1 714.8 327.2 713.6 C328.3 712.4 329.7 711.4 331.5 710.5 C333.3 709.6 335.6 708.8 337.9 708.3 C340.1 707.8 342.5 707.5 345 707.3 C347.5 707.1 350.3 707.1 353 707.2 C355.7 707.4 358.3 707.8 361 708.2 C363.7 708.7 366.4 709.2 369.1 709.9 C371.8 710.6 374.5 711.3 377 712.3 C379.5 713.3 381.9 714.3 384.1 715.8 C386.4 717.3 388.5 719.5 390.5 721.5 C392.5 723.5 395 726.6 395.9 727.6" fill="none" stroke="#fff" stroke-width="1.9" stroke-linecap="round" stroke-linejoin="round"/>
<path class="g" d="M393.3 728.2 L397.3 724.8 L405.6 731.6 L401.6 735.9 Z"/>
<path class="g" d="M403.6 733.8 L410.2 740.7"/>
<ellipse class="g" cx="412.6" cy="743.2" rx="3.3" ry="3.3"/>
<path class="g" d="M348.7 748.7 L358.5 744 L365.5 746 L369.5 745.2 L374.5 743.7 L398.8 751 L397 759.8 L406.2 765.7 L394.8 771.1 L384.1 766.4 L384.1 757.5 L361.6 759.8 L348.7 757 Z"/>
<path class="t" d="M350 755.3 L367.5 746.6 M384.1 757.5 L397 753.3 L398.8 751 M384.1 766.4 L387 763.2 L397 759.8"/>
<ellipse class="t" cx="376.6" cy="748.5" rx="1.6" ry="1.1"/>
<ellipse class="t" cx="362.6" cy="755" rx="1.6" ry="1.1"/>
<ellipse class="t" cx="387.5" cy="751.4" rx="1.6" ry="1.1"/>
<ellipse class="t" cx="392.2" cy="766.3" rx="1.6" ry="1.1"/>
<ellipse class="t" cx="400.2" cy="765.2" rx="1.6" ry="1.1"/>
</g>
<g id="p16">
<ellipse class="g" cx="318.4" cy="771.2" rx="6.2" ry="7.6" transform="rotate(-25 318.4 771.2)"/>
<ellipse class="t" cx="317.3" cy="770.6" rx="2.8" ry="3.6" transform="rotate(-25 317.3 770.6)"/>
<path class="g" d="M321.5 765.3 C322 765 323.5 763.6 324.5 763.5 C325.5 763.4 326.8 764 327.5 764.8 C328.2 765.5 328.8 766.9 328.8 768 C328.8 769.1 328.3 770.5 327.6 771.3 C326.9 772.1 324.9 772.4 324.4 772.6"/>
</g>
<g id="p15">
<ellipse class="g" cx="403.6" cy="799.7" rx="8.3" ry="4.5"/>
<ellipse class="t" cx="403.2" cy="799.5" rx="3.4" ry="1.9"/>
<path class="g" d="M395.9 802.2 L398 808.3 Q403.6 812.3 409.3 808.3 L411.3 802.2"/>
<path class="t" d="M398.3 806 C399.2 806.4 401.8 808.3 403.6 808.3 C405.4 808.3 408.1 806.4 409 806"/>
</g>
<g id="p21">
<path class="g" d="M156.8 701.3 L159.8 697.3 L173.4 691 L188.1 696.9 L186.1 702.2 L178.3 706.1 L159.8 707.1 Z"/>
<ellipse class="t" cx="165.1" cy="701.3" rx="2.9" ry="2" transform="rotate(-10 165.1 701.3)"/>
<ellipse class="t" cx="177.3" cy="699.6" rx="2.9" ry="2.1" transform="rotate(-10 177.3 699.6)"/>
<path class="g" d="M178.3 706.1 C177.8 707 176.1 709.7 175.5 711.5 C174.9 713.3 174.4 715 174.9 716.9 C175.4 718.8 177.6 720.9 178.3 722.7 C179 724.5 178.3 726.5 179.3 727.6 C180.3 728.8 183.2 728.5 184.2 729.6 C185.1 730.7 184.7 732.9 185 734 C185.3 735.1 185.1 735.8 186.1 736.4 C187.1 737 189.4 738 191 737.4 C192.6 736.8 195.1 733.3 195.9 732.5"/>
<path class="g" d="M186.1 702.2 L204.7 711.5 L218.4 709 L222.3 709 L231 725.7 L218.4 732.5 L219.8 734.9 L209.6 740.3 L197.9 733.5"/>
<path class="t" d="M204.7 711.5 L203.7 724.7 L197.9 733.5 M218.4 709 L217.4 719.8 L231 725.7 M217.4 719.8 L202.7 730.5 M181.3 709 L192 714 L198.8 711 M192 714 L193 724.7"/>
<path class="t" d="M185 711 C184.7 712 183.2 714.9 183.3 717 C183.4 719.1 184.5 721.9 185.5 723.5 C186.5 725.1 188.8 726 189.5 726.5"/>
<ellipse class="t" cx="189.3" cy="732" rx="4.2" ry="4.4"/>
<path class="g" d="M208.6 709 C209 707.2 210.2 701.4 211 698 C211.8 694.6 212.8 690.5 213.5 688.5 C214.2 686.5 214.3 686.6 215 686 C215.7 685.4 216.3 684.8 217.4 684.6 C218.5 684.4 221.1 684.6 221.8 684.6"/>
<path class="t" d="M214.5 709 C214.8 707.3 215.8 702.1 216.5 699 C217.2 695.9 217.9 692.1 218.4 690.5 C218.9 688.9 219 689.5 219.5 689.2 C220 688.9 221.2 688.7 221.5 688.6"/>
<path class="g" d="M222.3 685.6 L227.1 681.7 L231 686.6 L240.8 689.5 Q243.4 693.4 240.8 698.3 L236.9 699.8 L228.1 698.3 L225.2 700.3 L221.8 698.3 Z"/>
<path class="t" d="M226 689.5 L235.5 692.3 M236.9 699.8 Q234.5 695 237.5 689"/>
</g>
<g id="p22">
<ellipse class="g" cx="167.3" cy="764.3" rx="7.3" ry="8.6" transform="rotate(-30 167.3 764.3)"/>
<ellipse class="t" cx="166.6" cy="764.8" rx="3.2" ry="4.2" transform="rotate(-30 166.6 764.8)"/>
<ellipse class="t" cx="166.9" cy="764.5" rx="5" ry="6.2" transform="rotate(-30 166.9 764.5)"/>
<path class="g" d="M170.5 757.3 L179.3 751.4 Q182.8 750.7 183.6 754 Q183.8 756 182.5 757 L174.4 762.6"/>
</g>
<g id="p6">
<path class="g" d="M265.2 573.5 L269.2 591.2 Q275.5 596.5 282 590 L278 571.5"/>
<ellipse class="g" cx="271.6" cy="572.3" rx="6.6" ry="3.4" transform="rotate(-13 271.6 572.3)"/>
<path class="t" d="M266.5 579.5 C267.5 579.9 270.4 582.4 272.5 582 C274.6 581.6 278.1 578.1 279.2 577.3"/>
<path class="t" d="M267.6 584 C268.6 584.4 271.6 586.8 273.7 586.5 C275.8 586.2 279.2 582.8 280.3 582"/>
<path class="t" d="M268.5 588 C269.5 588.4 272.6 590.8 274.7 590.5 C276.8 590.2 280.1 586.9 281.2 586.2"/>
<path class="t" d="M267 573.7 C267.8 573.9 270.2 574.9 271.8 574.8 C273.4 574.6 275.7 573.1 276.5 572.8"/>
</g>
<g id="p3">
<ellipse class="g" cx="519.7" cy="669.7" rx="11" ry="6.6"/>
<path class="g" d="M514.5 665 C514.6 664.4 514.7 662.3 515.2 661.3 C515.7 660.3 516.7 659.5 517.5 659 C518.3 658.5 519.1 658.2 519.9 658.2 C520.7 658.2 521.6 658.5 522.4 659 C523.2 659.5 524.1 660.3 524.5 661.3 C524.9 662.3 524.9 664.4 525 665"/>
<ellipse class="t" cx="519.3" cy="667.2" rx="3.4" ry="2.7"/>
</g>
<g id="p7">
<ellipse class="g" cx="479.9" cy="726.3" rx="3.2" ry="3"/>
<ellipse class="g" cx="481.2" cy="732.3" rx="7.2" ry="4"/>
<path class="g" d="M475.6 735.5 Q474.6 741.3 481.2 743 Q487.8 741.8 487 735.4"/>
<path class="t" d="M476.2 737.5 C477.1 737.8 479.6 739.5 481.3 739.5 C483 739.5 485.6 737.7 486.5 737.3"/>
</g>
<g id="p11">
<path d="M486 765 C487 764.9 489.8 764.8 492 764.5 C494.2 764.2 496.9 764 499.4 763.4 C501.9 762.8 504.7 761.5 507 761 C509.3 760.5 511.6 760.2 513.4 760.3 C515.1 760.4 516.2 760.9 517.5 761.7 C518.8 762.5 519.9 763.5 521.3 765 C522.7 766.5 524.5 768.9 526 771 C527.5 773.1 528.9 775.8 530.6 777.5 C532.3 779.2 534 780.4 536 781.5 C538 782.6 540 782.9 542.7 784.1 C545.4 785.3 548.6 787.2 552 788.5 C555.4 789.8 558.8 791.2 563 791.7 C567.2 792.2 571.9 792 577 791.8 C582.1 791.6 586.7 791.4 593.5 790.5 C600.3 789.6 609.5 787.8 618 786.3 C626.5 784.8 634.6 783.2 644.3 781.6 C654 780 665.4 778.3 676 776.8 C686.6 775.3 698.3 773.8 707.8 772.7 C717.3 771.7 724.5 771.1 733 770.5 C741.5 769.9 751.5 769.6 758.5 768.9 C765.5 768.2 770.1 767.5 775 766.5 C779.9 765.5 784.9 764.3 788 763.2 C791.1 762.1 792 761.3 793.5 760 C795 758.7 795.6 757.6 797 755.5 C798.4 753.4 800.2 750.3 802 747.5 C803.8 744.7 806 741.4 808 738.5 C810 735.6 812.1 732.8 814 730.3 C815.9 727.8 818.3 724.9 819.2 723.8" fill="none" stroke="#838383" stroke-width="4.4" stroke-linecap="round" stroke-linejoin="round"/>
<path d="M486 765 C487 764.9 489.8 764.8 492 764.5 C494.2 764.2 496.9 764 499.4 763.4 C501.9 762.8 504.7 761.5 507 761 C509.3 760.5 511.6 760.2 513.4 760.3 C515.1 760.4 516.2 760.9 517.5 761.7 C518.8 762.5 519.9 763.5 521.3 765 C522.7 766.5 524.5 768.9 526 771 C527.5 773.1 528.9 775.8 530.6 777.5 C532.3 779.2 534 780.4 536 781.5 C538 782.6 540 782.9 542.7 784.1 C545.4 785.3 548.6 787.2 552 788.5 C555.4 789.8 558.8 791.2 563 791.7 C567.2 792.2 571.9 792 577 791.8 C582.1 791.6 586.7 791.4 593.5 790.5 C600.3 789.6 609.5 787.8 618 786.3 C626.5 784.8 634.6 783.2 644.3 781.6 C654 780 665.4 778.3 676 776.8 C686.6 775.3 698.3 773.8 707.8 772.7 C717.3 771.7 724.5 771.1 733 770.5 C741.5 769.9 751.5 769.6 758.5 768.9 C765.5 768.2 770.1 767.5 775 766.5 C779.9 765.5 784.9 764.3 788 763.2 C791.1 762.1 792 761.3 793.5 760 C795 758.7 795.6 757.6 797 755.5 C798.4 753.4 800.2 750.3 802 747.5 C803.8 744.7 806 741.4 808 738.5 C810 735.6 812.1 732.8 814 730.3 C815.9 727.8 818.3 724.9 819.2 723.8" fill="none" stroke="#fff" stroke-width="1.4" stroke-linecap="round" stroke-linejoin="round"/>
<path d="M808.7 717.8 C809.8 718.2 813 719.3 815 720.2 C817 721.1 817.2 720.9 821 723 C824.8 725.1 831.9 729.2 838 733 C844.1 736.8 853.6 743.1 857.9 745.9 C862.2 748.6 862 748.5 864 749.5 C866 750.5 868.1 751.5 870.2 752 C872.3 752.5 874.5 752.6 876.5 752.6 C878.5 752.6 880.6 752.5 882.5 752 C884.4 751.5 886.3 750.5 888 749.6 C889.7 748.7 891.8 747 892.5 746.5" fill="none" stroke="#838383" stroke-width="4.4" stroke-linecap="round" stroke-linejoin="round"/>
<path d="M808.7 717.8 C809.8 718.2 813 719.3 815 720.2 C817 721.1 817.2 720.9 821 723 C824.8 725.1 831.9 729.2 838 733 C844.1 736.8 853.6 743.1 857.9 745.9 C862.2 748.6 862 748.5 864 749.5 C866 750.5 868.1 751.5 870.2 752 C872.3 752.5 874.5 752.6 876.5 752.6 C878.5 752.6 880.6 752.5 882.5 752 C884.4 751.5 886.3 750.5 888 749.6 C889.7 748.7 891.8 747 892.5 746.5" fill="none" stroke="#fff" stroke-width="1.4" stroke-linecap="round" stroke-linejoin="round"/>
<path d="M474 763 L483.5 765.3" fill="none" stroke="#838383" stroke-width="7" stroke-linecap="round"/><path d="M474 763 L483.5 765.3" fill="none" stroke="#fff" stroke-width="3.6" stroke-linecap="round"/>
<path class="t" d="M477 760.5 L475.8 766.8"/>
<ellipse class="g" cx="894.3" cy="745.6" rx="2.4" ry="2"/>
</g>
<g id="p13">
<path class="g" d="M586.8 805 L594.3 804.2 L596.5 806.1 L597 809.9 L601.3 810.9 L601.9 814.2 L600.2 819.5 L592.2 820.1 L588.4 814.7 Z"/>
<path class="t" d="M597 809.9 L592.7 812 L593.3 819.5"/>
</g>
<g id="p17">
<path class="g" d="M910.6 720.4 L922.9 726.6 L912.4 745.9 L897.4 738.9 L898 730 Z"/>
</g>
<g id="p20">
<path d="M430.3 707 C430.3 705.8 431.1 704.1 431.6 702.8 C432.1 701.5 432.3 700.1 433.2 699 C434.1 697.9 435.8 696.8 437 696.2 C438.2 695.6 439.5 695.3 440.5 695.3 C441.5 695.3 442.5 695.4 443.2 696 C443.9 696.6 444.4 697.9 444.8 699 C445.2 700.1 445.1 701.7 445.6 702.8 C446.1 703.9 447.3 704.8 447.6 705.8 C447.9 706.8 447.8 708.1 447.4 709 C447 709.9 446.9 710.3 445.5 711 C444.1 711.7 441 712.8 439.2 713 C437.4 713.2 436.1 712.5 434.8 712 C433.5 711.5 432.4 710.8 431.6 710 C430.9 709.2 430.3 708.2 430.3 707Z" fill="#214a20" stroke="#070907" stroke-width="2.8" stroke-linejoin="round"/>
<path d="M435.4 700.5 L434.8 708.5 M438.9 699 L438.7 710 M442.2 700 L442.6 709" fill="none" stroke="#3f7a38" stroke-width="1.2" stroke-linecap="round"/>
<path d="M439.8 743.3 L439.8 721" fill="none" stroke="#000" stroke-width="3.7"/><path d="M439.8 713.9 L445.6 724.2 L439.8 722.2 L434 724.2 Z" fill="#000"/>
</g>
<g id="labels">
<text class="n" x="614.4" y="195.1" text-anchor="start">1</text>
<rect x="616.2" y="191.6" width="7.2" height="4.2" fill="#fff"/><rect x="625.9" y="191.6" width="6.6" height="4.2" fill="#fff"/>
<text class="n" x="261.4" y="547" text-anchor="start">2</text>
<text class="n" x="457.7" y="682.1" text-anchor="start">3</text>
<text class="n" x="329.8" y="461.1" text-anchor="start">4</text>
<text class="n" x="605" y="508.6" text-anchor="start">5</text>
<text class="n" x="216.4" y="598.6" text-anchor="start">6</text>
<text class="n" x="521.4" y="748.5" text-anchor="start">7</text>
<text class="n" x="897.2" y="341.1" text-anchor="start">8</text>
<text class="n" x="898" y="429.4" text-anchor="start">9</text>
<text class="n" x="780.4" y="452.8" text-anchor="start">10</text>
<rect x="782.2" y="449.3" width="7.2" height="4.2" fill="#fff"/><rect x="791.9" y="449.3" width="6.6" height="4.2" fill="#fff"/>
<text class="n" x="867.2" y="635.3" text-anchor="start">11</text>
<rect x="869" y="631.8" width="7.2" height="4.2" fill="#fff"/><rect x="878.8" y="631.8" width="6.6" height="4.2" fill="#fff"/>
<rect x="888.2" y="631.8" width="7.2" height="4.2" fill="#fff"/><rect x="897.9" y="631.8" width="6.6" height="4.2" fill="#fff"/>
<text class="n" x="265" y="743.8" text-anchor="start">12</text>
<rect x="266.8" y="740.3" width="7.2" height="4.2" fill="#fff"/><rect x="276.6" y="740.3" width="6.6" height="4.2" fill="#fff"/>
<text class="n" x="635.3" y="826.2" text-anchor="start">13</text>
<rect x="637.1" y="822.7" width="7.2" height="4.2" fill="#fff"/><rect x="646.8" y="822.7" width="6.6" height="4.2" fill="#fff"/>
<text class="n" x="289.8" y="701.8" text-anchor="start">14</text>
<rect x="291.6" y="698.3" width="7.2" height="4.2" fill="#fff"/><rect x="301.4" y="698.3" width="6.6" height="4.2" fill="#fff"/>
<text class="n" x="328.8" y="814.5" text-anchor="start">15</text>
<rect x="330.6" y="811" width="7.2" height="4.2" fill="#fff"/><rect x="340.4" y="811" width="6.6" height="4.2" fill="#fff"/>
<text class="n" x="243.9" y="784.8" text-anchor="start">16</text>
<rect x="245.7" y="781.3" width="7.2" height="4.2" fill="#fff"/><rect x="255.5" y="781.3" width="6.6" height="4.2" fill="#fff"/>
<text class="n" x="893.7" y="693.7" text-anchor="start">17</text>
<rect x="895.5" y="690.2" width="7.2" height="4.2" fill="#fff"/><rect x="905.2" y="690.2" width="6.6" height="4.2" fill="#fff"/>
<text class="n" x="319.1" y="608.2" text-anchor="start">18</text>
<rect x="320.9" y="604.7" width="7.2" height="4.2" fill="#fff"/><rect x="330.7" y="604.7" width="6.6" height="4.2" fill="#fff"/>
<text class="n" x="225.9" y="667.6" text-anchor="start">19</text>
<rect x="227.7" y="664.1" width="7.2" height="4.2" fill="#fff"/><rect x="237.5" y="664.1" width="6.6" height="4.2" fill="#fff"/>
<text class="n" x="94.5" y="717.4" text-anchor="start">21</text>
<rect x="115.5" y="713.9" width="7.2" height="4.2" fill="#fff"/><rect x="125.2" y="713.9" width="6.6" height="4.2" fill="#fff"/>
<text class="n" x="92.3" y="781.4" text-anchor="start">22</text>
<text transform="translate(424.1 777) scale(1.07 1)" x="0" y="0" class="n20">20</text>
</g>
<g id="arrows">
<path class="ar" d="M620 197.5 L607.2 214.8"/><path class="ah" d="M603.8 219.5 L604.7 209.9 L607.5 214.4 L612.7 215.8Z"/>
<path class="ar" d="M282.8 533.4 L304.2 533.4"/><path class="ah" d="M310 533.4 L301.7 538.4 L303.7 533.4 L301.7 528.4Z"/>
<path class="ar" d="M479.8 668.1 L500.6 668.1"/><path class="ah" d="M506.4 668.1 L498.1 673.1 L500.1 668.1 L498.1 663.1Z"/>
<path class="ar" d="M339 431 L339 411.8"/><path class="ah" d="M339 406 L344 414.3 L339 412.3 L334 414.3Z"/>
<path class="ar" d="M613.8 476.3 L613.8 455.8"/><path class="ah" d="M613.8 450 L618.8 458.3 L613.8 456.3 L608.8 458.3Z"/>
<path class="ar" d="M238.7 584.6 L259.8 584.6"/><path class="ah" d="M265.6 584.6 L257.3 589.6 L259.3 584.6 L257.3 579.6Z"/>
<path class="ar" d="M516.6 735.3 L495.8 735.3"/><path class="ah" d="M490 735.3 L498.3 730.3 L496.3 735.3 L498.3 740.3Z"/>
<path class="ar" d="M892.6 327.8 L871.7 327.8"/><path class="ah" d="M865.9 327.8 L874.2 322.8 L872.2 327.8 L874.2 332.8Z"/>
<path class="ar" d="M899.7 401.6 L887.4 385.1"/><path class="ah" d="M883.9 380.5 L892.9 384.1 L887.7 385.5 L884.9 390.1Z"/>
<path class="ar" d="M796 421.8 L796 402.1"/><path class="ah" d="M796 396.3 L801 404.6 L796 402.6 L791 404.6Z"/>
<path class="ar" d="M303 729.8 L323.6 729.8"/><path class="ah" d="M329.4 729.8 L321.1 734.8 L323.1 729.8 L321.1 724.8Z"/>
<path class="ar" d="M630.3 813.1 L609.3 813.1"/><path class="ah" d="M603.5 813.1 L611.8 808.1 L609.8 813.1 L611.8 818.1Z"/>
<path class="ar" d="M329.4 688.4 L349 688.4"/><path class="ah" d="M354.8 688.4 L346.5 693.4 L348.5 688.4 L346.5 683.4Z"/>
<path class="ar" d="M367.4 800.7 L388.3 800.7"/><path class="ah" d="M394.1 800.7 L385.8 805.7 L387.8 800.7 L385.8 795.7Z"/>
<path class="ar" d="M282.5 771.3 L303.9 771.3"/><path class="ah" d="M309.7 771.3 L301.4 776.3 L303.4 771.3 L301.4 766.3Z"/>
<path class="ar" d="M910.6 700.2 L910.6 713.7"/><path class="ah" d="M910.6 719.5 L905.6 711.2 L910.6 713.2 L915.6 711.2Z"/>
<path class="ar" d="M334.5 616 L334.5 636.7"/><path class="ah" d="M334.5 642.5 L329.5 634.2 L334.5 636.2 L339.5 634.2Z"/>
<path class="ar" d="M264.9 654.2 L286.5 654.2"/><path class="ah" d="M292.3 654.2 L284 659.2 L286 654.2 L284 649.2Z"/>
<path class="ar" d="M128.6 703.9 L150.2 703.9"/><path class="ah" d="M156 703.9 L147.7 708.9 L149.7 703.9 L147.7 698.9Z"/>
<path class="ar" d="M130.5 768 L153.1 768"/><path class="ah" d="M158.9 768 L150.6 773 L152.6 768 L150.6 763Z"/>
<path class="ar" d="M857.4 647.8 L857.4 735.7"/><path class="ah" d="M857.4 741.5 L852.4 733.2 L857.4 735.2 L862.4 733.2Z"/>
<path class="ar" d="M884.3 640.4 L884.3 647.8 M856.5 647.8 L911.5 647.8 M910.6 647.8 L910.6 662.4"/>
</g>
</g>
</svg>
<div class="banner"></div>
<div class="bt" id="l1" style="top:899px;font-size:33px;line-height:40px;">Part or sub-assembly is #20 in diagram</div>
<div class="bt" id="l2" style="top:936px;font-size:33px;line-height:40px;">Diagram may not be specific to your vehicle</div>
</body></html>
